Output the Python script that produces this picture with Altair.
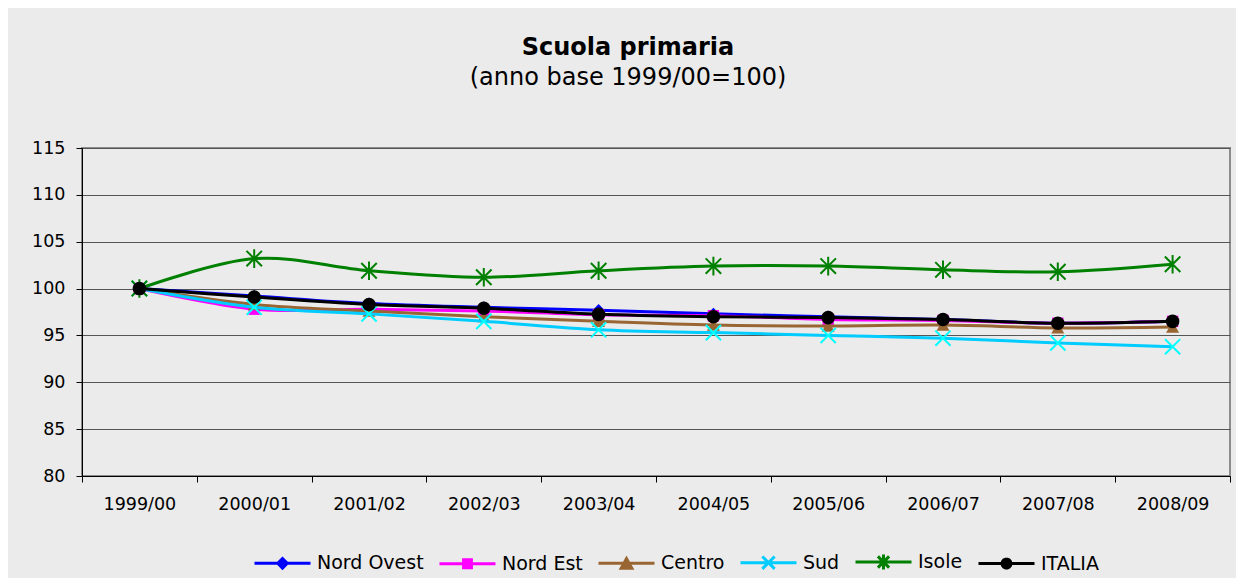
import altair as alt
import pandas as pd
import math

anni = ["1999/00", "2000/01", "2001/02", "2002/03", "2003/04",
        "2004/05", "2005/06", "2006/07", "2007/08", "2008/09"]
serie = ["Nord Ovest", "Nord Est", "Centro", "Sud", "Isole", "ITALIA"]
nord_ovest = [100, 99.2, 98.4, 98.0, 97.7, 97.3, 97.0, 96.7, 96.3, 96.5]
nord_est = [100, 97.8, 97.8, 97.6, 97.2, 97.1, 96.7, 96.6, 96.3, 96.5]
centro = [100, 98.3, 97.6, 97.0, 96.5, 96.1, 96.0, 96.1, 95.8, 95.9]
sud = [100, 98.0, 97.3, 96.5, 95.6, 95.3, 95.0, 94.7, 94.2, 93.8]
isole = [100, 103.2, 101.9, 101.2, 101.9, 102.4, 102.4, 102.0, 101.8, 102.6]
italia = [100, 99.1, 98.3, 97.9, 97.25, 97.0, 96.9, 96.7, 96.3, 96.5]

valori = [nord_ovest, nord_est, centro, sud, isole, italia]
colori_linea = ["#0000FF", "#FF00FF", "#996633", "#00CCFF", "#008000", "#000000"]
colori_marker = ["#0000FF", "#FF00FF", "#996633", "#00FFFF", "#008000", "#000000"]

rows = []
for s, vals in zip(serie, valori):
    for a, v in zip(anni, vals):
        rows.append({"anno": a, "serie": s, "valore": v})
df = pd.DataFrame(rows)

FONT = "DejaVu Sans"

# marker shapes for the plot
X_PATH = "M-1,-1L1,1M-1,1L1,-1"
STAR_PATH = "M-1,-1L1,1M-1,1L1,-1M0,-1.2L0,1.2"
markers = [
    dict(shape="diamond", size=150, filled=True, strokeWidth=0),
    dict(shape="square", size=130, filled=True, strokeWidth=0),
    dict(shape="triangle-up", size=170, filled=True, strokeWidth=0),
    dict(shape=X_PATH, size=230, filled=False, strokeWidth=2),
    dict(shape=STAR_PATH, size=240, filled=False, strokeWidth=2),
    dict(shape="circle", size=185, filled=True, strokeWidth=0),
]


def poly(n, r):
    pts = []
    for i in range(n):
        a = 2 * math.pi * i / n
        pts.append(f"{r*math.cos(a):.3f},{r*math.sin(a):.3f}")
    return "M" + "L".join(pts) + "Z"


# legend symbols: line + marker (unit coordinates)
LINE = "M-1,0L1,0"
leg_paths = [
    LINE + "M-0.17,0L0,-0.17L0.17,0L0,0.17Z",
    LINE + "M-0.14,-0.14L0.14,-0.14L0.14,0.14L-0.14,0.14Z",
    LINE + "M-0.19,0.17L0,-0.17L0.19,0.17Z",
    LINE + "M-0.22,-0.22L0.22,0.22M-0.22,0.22L0.22,-0.22",
    LINE + "M-0.2,-0.2L0.2,0.2M-0.2,0.2L0.2,-0.2M0,-0.27L0,0.27",
    LINE + poly(14, 0.16),
]

x_enc = alt.X(
    "anno:N", sort=anni,
    scale=alt.Scale(type="band", paddingInner=0, paddingOuter=0),
    bandPosition=0.5,
    axis=alt.Axis(title=None, labelAngle=0, tickBand="extent", grid=False,
                  domainColor="#000000", tickColor="#000000", tickSize=6,
                  labelFont=FONT, labelFontSize=17.5, labelColor="#000000",
                  labelPadding=13),
)
y_enc = alt.Y(
    "valore:Q",
    scale=alt.Scale(domain=[80, 115], nice=False, zero=False),
    axis=alt.Axis(title=None, values=[80, 85, 90, 95, 100, 105, 110, 115],
                  grid=True, gridColor="#555555", gridWidth=1,
                  domainColor="#000000", tickColor="#000000", tickSize=6,
                  labelFont=FONT, labelFontSize=17.5, labelColor="#000000",
                  labelPadding=11),
)

legend = alt.Legend(
    title=None, orient="none", legendX=171, legendY=384,
    direction="horizontal", columns=6, padding=0,
    symbolSize=3136, symbolStrokeWidth=3, symbolOpacity=1,
    labelFont=FONT, labelFontSize=19, labelColor="#000000", labelOffset=5,
    columnPadding=9,
)

layers = []
for i, s in enumerate(serie):
    base = alt.Chart(df).transform_filter(alt.datum.serie == s)
    line = base.mark_line(strokeWidth=3, interpolate="cardinal",
                          color=colori_linea[i]).encode(x=x_enc, y=y_enc)
    m = markers[i]
    if m["filled"]:
        pt = base.mark_point(shape=m["shape"], size=m["size"], filled=True,
                             fill=colori_marker[i], opacity=1, strokeWidth=0)
    else:
        pt = base.mark_point(shape=m["shape"], size=m["size"], filled=False,
                             stroke=colori_marker[i], opacity=1,
                             strokeWidth=m["strokeWidth"])
    pt = pt.encode(x=x_enc, y=y_enc)
    layers += [line, pt]

# legend-only layer (no rows drawn, legend built from explicit domains)
legend_layer = alt.Chart(df).transform_filter("false").mark_point(
    filled=True, opacity=1, size=3136, strokeWidth=3
).encode(
    color=alt.Color("serie:N", scale=alt.Scale(domain=serie, range=colori_linea),
                    legend=legend),
    stroke=alt.Stroke("serie:N", scale=alt.Scale(domain=serie, range=colori_linea),
                      legend=legend),
    shape=alt.Shape("serie:N", scale=alt.Scale(domain=serie, range=leg_paths),
                    legend=legend),
)
layers.append(legend_layer)

chart = alt.layer(*layers).properties(
    width=1148, height=328,
    title=alt.TitleParams(
        text="Scuola primaria", subtitle="(anno base 1999/00=100)",
        font=FONT, fontSize=24, fontWeight="bold", color="#000000",
        subtitleFont=FONT, subtitleFontSize=24, subtitleColor="#000000",
        subtitlePadding=6, anchor="middle", frame="group", dx=-28, offset=49,
    ),
    autosize=alt.AutoSizeParams(type="none"),
    padding={"left": 74, "top": 140, "right": 6, "bottom": 102},
    background="#ebebeb",
).configure_view(
    fill="#e4e4e4", stroke="#8c8c8c", strokeWidth=2
)

chart.save("out.html", embed_options={"renderer": "svg", "actions": False})
